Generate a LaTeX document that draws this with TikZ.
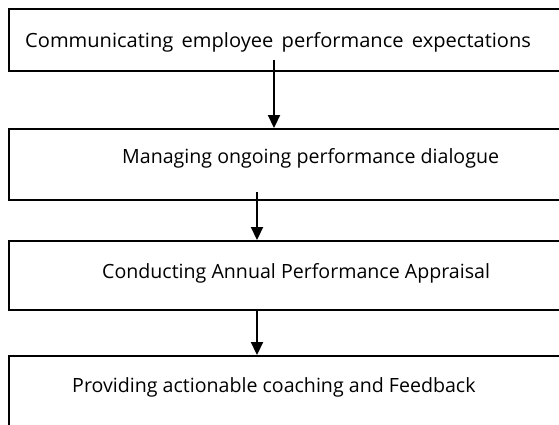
\documentclass[tikz,border=0pt]{standalone}
\usepackage{fontspec}
\setmainfont{Open Sans}
\usetikzlibrary{arrows.meta}
\begin{document}
\begin{tikzpicture}[x=1pt,y=-1pt,
  stagebox/.style={draw=black, line width=1.5pt, anchor=north west, inner sep=0pt},
  stagetext/.style={anchor=base west, inner sep=0pt, font=\fontsize{19.6}{22}\selectfont},
  flow/.style={line width=2.2pt, -{Triangle[width=12pt,length=13pt]}}]
\useasboundingbox (0,0) rectangle (559,424);
\clip (0,0) rectangle (559,424);
\node[stagebox, minimum width=580pt, minimum height=62pt] (b1) at (8,8) {};
\node[stagebox, minimum width=580pt, minimum height=71pt] (b2) at (8,128) {};
\node[stagebox, minimum width=580pt, minimum height=69pt] (b3) at (8,240) {};
\node[stagebox, minimum width=580pt, minimum height=100pt] (b4) at (8,355) {};
\node[stagetext] (t1) at (25,47) {\scalebox{1.025}[1]{Communicating\hspace{3pt} employee\hspace{3pt} performance\hspace{3pt} expectations}};
\node[stagetext] (t2) at (122,163) {Managing ongoing performance dialogue};
\node[stagetext] (t3) at (102,278) {Conducting Annual Performance Appraisal};
\node[stagetext] (t4) at (72,392) {Providing actionable coaching and Feedback};
\coordinate (s1) at (274,60);
\coordinate (s2) at (257,192);
\coordinate (s3) at (257,309);
\draw[flow] (s1) -- (s1 |- b2.north);
\draw[flow] (s2) -- (s2 |- b3.north);
\draw[flow] (s3) -- (s3 |- b4.north);
\end{tikzpicture}
\end{document}
